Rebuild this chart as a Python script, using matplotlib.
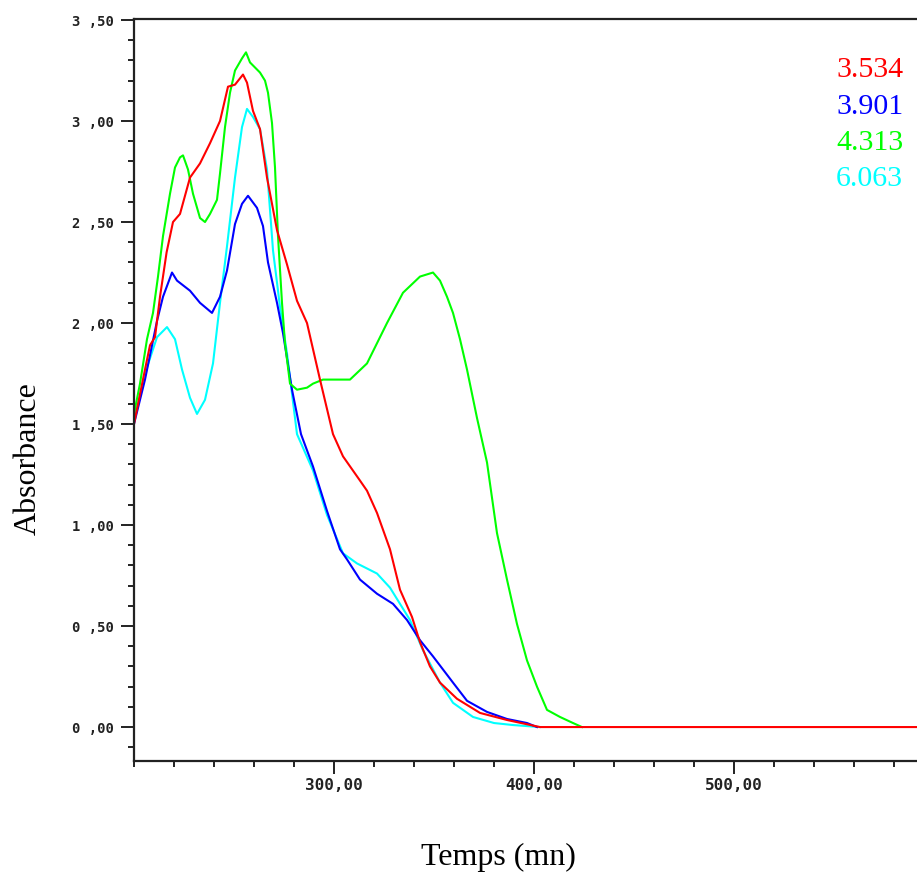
"""Absorbance vs time for four samples."""

import matplotlib

matplotlib.use("Agg")
import matplotlib.pyplot as plt
from matplotlib.ticker import FixedLocator, MultipleLocator

RED = "#FF0000"
BLUE = "#0000FF"
GREEN = "#00FF00"
CYAN = "#00FFFF"

# curve labels (top right)
LABELS = ["3.534", "3.901", "4.313", "6.063"]

# 3.534 (red)
red_x = [200, 205.5, 208, 210.5, 213, 216.3, 219.5, 223, 228, 233, 238, 243, 247, 250.5,
         254.5, 256.5, 259.5, 263, 266.5, 271.5, 276.5, 281.5, 286.5, 293, 299.5, 304.5,
         313, 316.5, 321.5, 328, 333, 339, 343, 348, 353, 361.5, 373, 386.5, 403, 591.5]
red_y = [1.50, 1.77, 1.89, 1.93, 2.13, 2.35, 2.50, 2.54, 2.72, 2.79, 2.89, 3.00, 3.17, 3.18,
         3.23, 3.19, 3.05, 2.96, 2.72, 2.46, 2.29, 2.11, 2.00, 1.72, 1.45, 1.34,
         1.22, 1.17, 1.06, 0.88, 0.68, 0.545, 0.42, 0.30, 0.22, 0.14, 0.07, 0.035, 0.0, 0.0]

# 3.901 (blue)
blue_x = [200, 205.5, 211.5, 214.5, 219, 221.5, 228, 233, 239, 243, 246.5, 250.5, 254, 257,
          261.5, 264.5, 267, 271.5, 274.5, 279, 283.5, 289.5, 296.5, 303, 306.5, 313, 321.5,
          329.5, 336.5, 343, 349.5, 359.5, 366.5, 376.5, 386.5, 396.5, 401.5]
blue_y = [1.50, 1.72, 2.01, 2.13, 2.25, 2.21, 2.16, 2.10, 2.05, 2.13, 2.26, 2.49, 2.59, 2.63,
          2.57, 2.48, 2.30, 2.10, 1.95, 1.67, 1.45, 1.29, 1.07, 0.88, 0.83, 0.73, 0.66,
          0.61, 0.53, 0.43, 0.35, 0.22, 0.13, 0.075, 0.04, 0.02, 0.0]

# 4.313 (green)
green_x = [200, 203, 206.5, 209.5, 212, 214.5, 218, 220.5, 223, 224.5, 227, 229.5, 233, 235.5,
           238, 241.5, 243, 245.5, 248, 250.5, 254, 256, 258, 263, 265.5, 267, 269, 270.5,
           272, 274, 275.5, 278, 281.5, 286.5, 289.5, 294.5, 308, 316.5, 326.5, 334.5, 343,
           349.5, 353, 356.5, 359.5, 363, 366.5, 371.5, 376.5, 381.5, 386.5, 391.5, 396.5,
           401.5, 406.5, 413, 419.5, 424]
green_y = [1.55, 1.70, 1.92, 2.05, 2.23, 2.43, 2.64, 2.77, 2.82, 2.83, 2.76, 2.64, 2.52, 2.50,
           2.54, 2.61, 2.74, 2.97, 3.14, 3.25, 3.31, 3.34, 3.29, 3.24, 3.20, 3.14, 2.99, 2.77,
           2.43, 2.10, 1.90, 1.70, 1.67, 1.68, 1.70, 1.72, 1.72, 1.80, 2.00, 2.15, 2.23,
           2.25, 2.21, 2.13, 2.05, 1.92, 1.77, 1.53, 1.31, 0.96, 0.73, 0.51, 0.33,
           0.20, 0.085, 0.05, 0.02, 0.0]

# 6.063 (cyan)
cyan_x = [200, 206.5, 211.5, 216.5, 220.5, 224, 228, 231.5, 235.5, 239.5, 243, 246.5, 250.5,
          254, 256.5, 259.5, 263, 266.5, 269.5, 273, 276.5, 281.5, 289.5, 296.5, 304.5, 311.5,
          321.5, 328, 333, 338, 344.5, 353, 359.5, 369.5, 380, 389.5, 403]
cyan_y = [1.52, 1.78, 1.93, 1.98, 1.92, 1.77, 1.63, 1.55, 1.62, 1.80, 2.10, 2.38, 2.72,
          2.97, 3.06, 3.02, 2.96, 2.76, 2.36, 2.08, 1.85, 1.45, 1.27, 1.05, 0.86, 0.81,
          0.76, 0.69, 0.61, 0.53, 0.38, 0.22, 0.12, 0.05, 0.02, 0.01, 0.0]

X_TICKS = [300, 400, 500]
Y_TICKS = [0.0, 0.5, 1.0, 1.5, 2.0, 2.5, 3.0, 3.5]


def main() -> int:
    fig = plt.figure(figsize=(9.17, 8.72), dpi=100)
    ax = fig.add_axes([134 / 917, 1 - 761 / 872, 1 - 134 / 917, (761 - 19) / 872])

    ax.plot(cyan_x, cyan_y, color=CYAN, linewidth=1.5)
    ax.plot(blue_x, blue_y, color=BLUE, linewidth=1.5)
    ax.plot(green_x, green_y, color=GREEN, linewidth=1.5)
    ax.plot(red_x, red_y, color=RED, linewidth=1.5)

    ax.set_xlim(200, 591.5)
    ax.set_ylim(-0.168, 3.505)

    ax.spines["right"].set_visible(False)
    for side in ("left", "bottom", "top"):
        ax.spines[side].set_linewidth(1.6)
        ax.spines[side].set_color("#222222")

    ax.xaxis.set_major_locator(FixedLocator(X_TICKS))
    ax.xaxis.set_minor_locator(MultipleLocator(20))
    ax.yaxis.set_major_locator(FixedLocator(Y_TICKS))
    ax.yaxis.set_minor_locator(MultipleLocator(0.1))
    ax.set_xticklabels([f"{v:.2f}".replace(".", ",") for v in X_TICKS])
    ax.set_yticklabels([f"{v:.2f}".replace(".", " ,") for v in Y_TICKS])

    for lab in ax.get_yticklabels():
        lab.set_fontfamily("DejaVu Sans Mono")
        lab.set_fontweight("bold")
        lab.set_fontsize(10)
        lab.set_color("#222222")
    for lab in ax.get_xticklabels():
        lab.set_fontfamily("DejaVu Sans Mono")
        lab.set_fontweight("bold")
        lab.set_fontsize(11.5)
        lab.set_color("#222222")

    ax.tick_params(which="major", length=9.5, width=1.4, color="#222222")
    ax.tick_params(which="minor", length=4, width=1.4, color="#222222")
    ax.tick_params(axis="y", which="major", pad=5)
    ax.tick_params(axis="x", which="major", pad=3)

    serif = ["Liberation Serif", "DejaVu Serif"]
    ax.set_xlabel("Temps (mn)", family=serif, fontsize=23)
    ax.xaxis.set_label_coords(0.465, -0.111)
    ax.set_ylabel("Absorbance", family=serif, fontsize=23)
    ax.yaxis.set_label_coords(-0.117, 0.408)

    colors = [RED, BLUE, GREEN, CYAN]
    for i, (text, col) in enumerate(zip(LABELS, colors)):
        fig.text(836 / 917, 1 - (77 + 36.5 * i) / 872, text, color=col,
                 family=serif, fontsize=21.5, ha="left", va="baseline")

    fig.savefig("out.png", dpi=100)
    plt.close(fig)
    return 0


if __name__ == "__main__":
    raise SystemExit(main())
